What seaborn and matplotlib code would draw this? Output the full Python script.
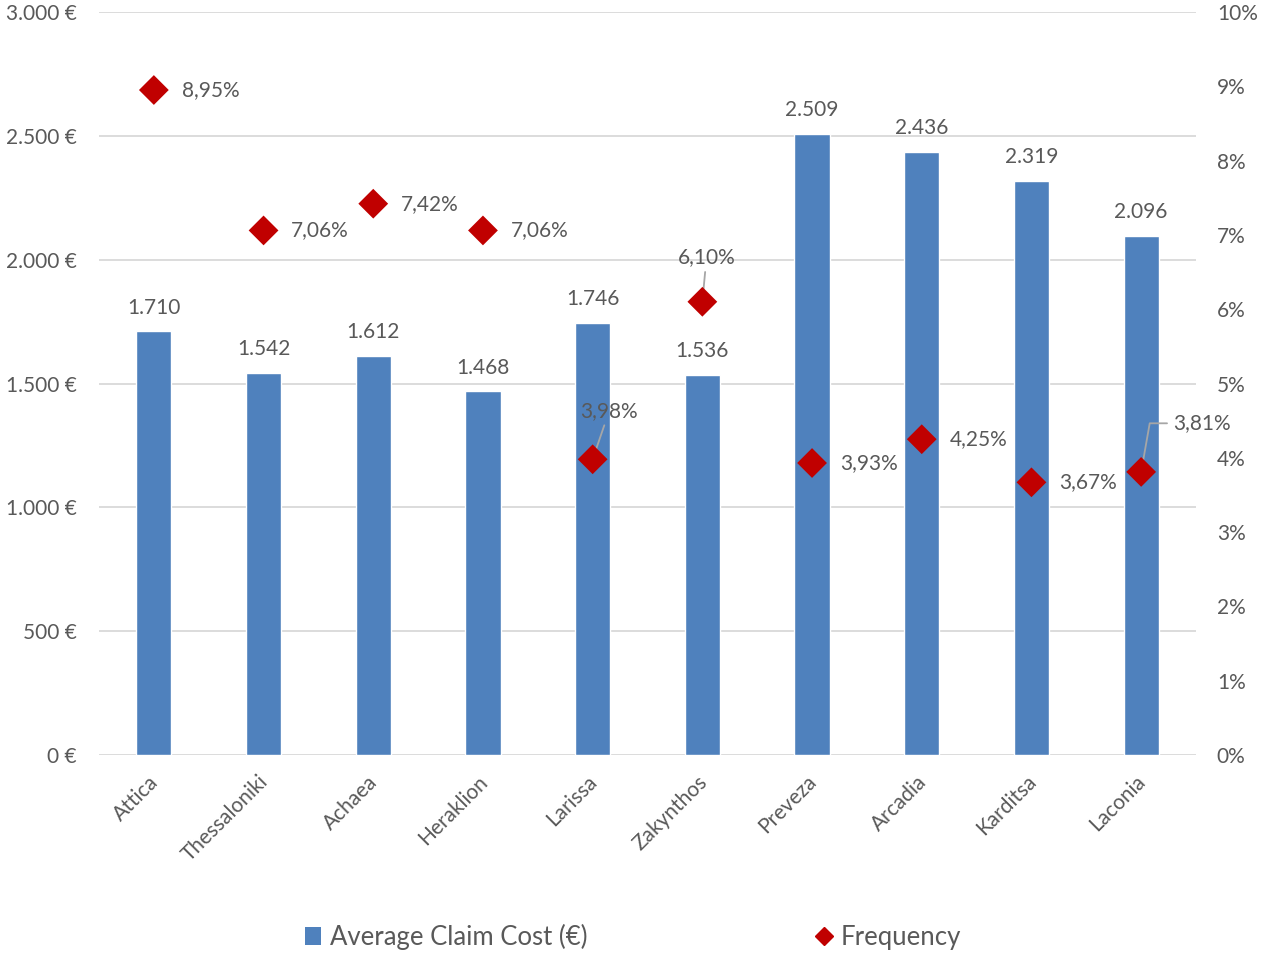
import matplotlib
matplotlib.use("Agg")
import matplotlib.pyplot as plt
import seaborn as sns
import pandas as pd
from matplotlib.ticker import FuncFormatter
from matplotlib.lines import Line2D
from matplotlib.patches import Patch
from matplotlib.transforms import ScaledTranslation

regions = ["Attica", "Thessaloniki", "Achaea", "Heraklion", "Larissa",
           "Zakynthos", "Preveza", "Arcadia", "Karditsa", "Laconia"]
avg_cost = [1710, 1542, 1612, 1468, 1746, 1536, 2509, 2436, 2319, 2096]
frequency = [8.95, 7.06, 7.42, 7.06, 3.98, 6.10, 3.93, 4.25, 3.67, 3.81]

sns.set_theme(style="white")
plt.rcParams['font.family'] = ['Lato', 'DejaVu Sans']
TXT = "#595959"
BAR = "#4f81bd"
RED = "#c00000"
GRID = "#d9d9d9"
FS = 15

df = pd.DataFrame({"region": regions, "cost": avg_cost, "freq": frequency})

fig = plt.figure(figsize=(12.61, 9.56), dpi=100)
ax = fig.add_axes([99/1261, 1-755/956, (1196-99)/1261, (755-12)/956])

sns.barplot(data=df, x="region", y="cost", color=BAR, width=0.32,
            saturation=1, ax=ax, zorder=3)
ax.set_xlim(-0.5, 9.5)
ax.set_ylim(0, 3000)
ax.set_yticks(range(0, 3001, 500))
ax.yaxis.set_major_formatter(FuncFormatter(lambda v, p: f"{int(v):,}".replace(",", ".") + " €"))
ax.grid(axis="y", color=GRID, linewidth=1.3, zorder=0)
ax.set_axisbelow(True)
for s in ax.spines.values():
    s.set_visible(False)
ax.set_xlabel("")
ax.set_ylabel("")
ax.tick_params(axis="both", length=0, colors=TXT, labelsize=FS)
ax.tick_params(axis="y", pad=16)
plt.setp(ax.get_xticklabels(), rotation=45, ha="right", rotation_mode="anchor")
ax.tick_params(axis="x", pad=12)
shift = ScaledTranslation(-4/72, 0, fig.dpi_scale_trans)
for lbl in ax.get_xticklabels():
    lbl.set_transform(lbl.get_transform() + shift)

for i, v in enumerate(avg_cost):
    ax.annotate(f"{v:,}".replace(",", "."), (i, v), xytext=(0, 10),
                textcoords="offset points", ha="center", va="bottom",
                fontsize=FS, color=TXT)

ax2 = ax.twinx()
sns.scatterplot(data=df, x="region", y="freq", marker="D", color=RED,
                s=230, edgecolor="none", ax=ax2, zorder=5, legend=False)
ax2.set_ylim(0, 10)
ax2.set_yticks(range(0, 11))
ax2.yaxis.set_major_formatter(FuncFormatter(lambda v, p: f"{int(v)}%"))
ax2.tick_params(axis="y", length=0, colors=TXT, labelsize=FS, pad=15)
for s in ax2.spines.values():
    s.set_visible(False)
ax2.set_ylabel("")
ax2.set_xlim(-0.5, 9.5)

LEAD = "#a6a6a6"
for i, f in enumerate(frequency):
    lab = f"{f:.2f}".replace(".", ",") + "%"
    if regions[i] == "Larissa":
        ax2.annotate(lab, (i, f), xytext=(12, 35), textcoords="offset points",
                     ha="center", va="center", fontsize=FS, color=TXT,
                     arrowprops=dict(arrowstyle="-", color=LEAD, lw=1.3,
                                     shrinkA=1, shrinkB=2))
    elif regions[i] == "Zakynthos":
        ax2.annotate(lab, (i, f), xytext=(3, 32), textcoords="offset points",
                     ha="center", va="center", fontsize=FS, color=TXT,
                     arrowprops=dict(arrowstyle="-", color=LEAD, lw=1.3,
                                     shrinkA=1, shrinkB=2))
    elif regions[i] == "Laconia":
        ax2.annotate(lab, (i, f), xytext=(23, 35), textcoords="offset points",
                     ha="left", va="center", fontsize=FS, color=TXT,
                     arrowprops=dict(arrowstyle="-", color=LEAD, lw=1.3,
                                     shrinkA=2, shrinkB=2,
                                     connectionstyle="angle,angleA=180,angleB=80,rad=0"))
    else:
        ax2.annotate(lab, (i, f), xytext=(20, 0), textcoords="offset points",
                     ha="left", va="center", fontsize=FS, color=TXT)

handles = [Patch(facecolor=BAR, edgecolor="none"),
           Line2D([], [], marker="D", color=RED, linestyle="none", markersize=9)]
fig.legend(handles, ["Average Claim Cost (€)", "Frequency"], loc="center",
           bbox_to_anchor=(633/1261, 1-937/956), ncol=2, frameon=False,
           fontsize=18.5, labelcolor=TXT, columnspacing=8.9, handlelength=0.6,
           handletextpad=0.35)

fig.savefig("out.png", dpi=100)
